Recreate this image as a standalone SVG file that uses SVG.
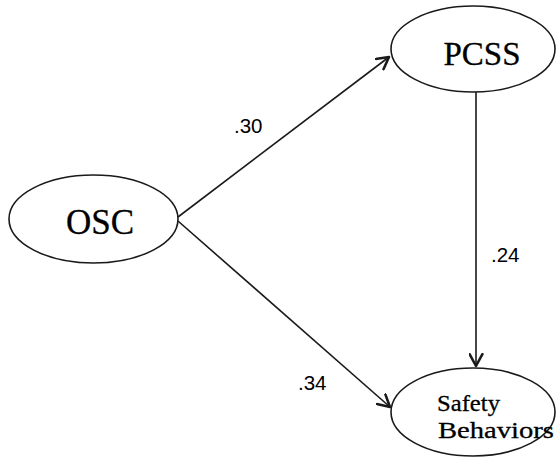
<svg xmlns="http://www.w3.org/2000/svg" width="558" height="459" viewBox="0 0 558 459">
  <style>
    .node ellipse { fill: #ffffff; stroke: #1a1a1a; stroke-width: 1.6; }
    .name { font-family: "Liberation Serif", "Times New Roman", serif; fill: #000; stroke: #000; stroke-width: 0.3; }
    .edge { stroke: #1a1a1a; stroke-width: 1.6; fill: none; marker-end: url(#head); }
    .coef { font-family: "Liberation Sans", Arial, sans-serif; font-size: 20.5px; fill: #000; }
  </style>
  <defs>
    <marker id="head" viewBox="0 0 14 14" refX="12" refY="7" markerWidth="15" markerHeight="15" markerUnits="userSpaceOnUse" orient="auto">
      <path d="M1,1 L12,7 L1,13" fill="none" stroke="#1a1a1a" stroke-width="2.4" stroke-linecap="round" stroke-linejoin="round"/>
    </marker>
  </defs>

  <g id="connectors">
    <line class="edge" x1="178" y1="217" x2="389" y2="57"/>
    <line class="edge" x1="178" y1="221" x2="390" y2="407"/>
    <line class="edge" x1="476" y1="92" x2="476" y2="366"/>
    <text class="coef" x="234" y="133">.30</text>
    <text class="coef" x="298" y="390">.34</text>
    <text class="coef" x="491" y="262">.24</text>
  </g>

  <g id="osc" class="node">
    <ellipse cx="93.5" cy="219" rx="84.5" ry="44"/>
    <text class="name" x="100" y="234" font-size="35" text-anchor="middle">OSC</text>
  </g>

  <g id="pcss" class="node">
    <ellipse cx="473" cy="49" rx="82" ry="43"/>
    <text class="name" x="482" y="65" font-size="33" text-anchor="middle">PCSS</text>
  </g>

  <g id="safety" class="node">
    <ellipse cx="473" cy="412" rx="82" ry="44"/>
    <text class="name" x="437" y="411" font-size="23" textLength="63" lengthAdjust="spacingAndGlyphs">Safety</text>
    <text class="name" x="438" y="438" font-size="24" textLength="116" lengthAdjust="spacingAndGlyphs">Behaviors</text>
  </g>
</svg>
